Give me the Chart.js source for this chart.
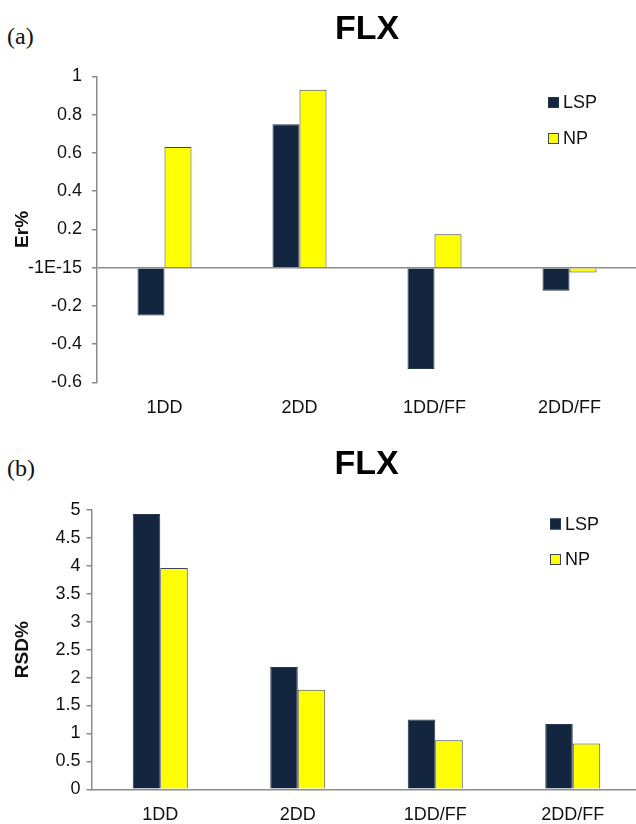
<!DOCTYPE html>
<html>
<head>
<meta charset="utf-8">
<script src="https://cdn.jsdelivr.net/npm/chart.js@4"></script>
<style>
  html, body { margin: 0; padding: 0; background: #fff; overflow: hidden; }
  #wrap { position: relative; width: 636px; height: 824px; overflow: hidden; }
  .panel { position: absolute; left: 0; }
  .tag { position: absolute; left: 7px; font: 24px "Liberation Serif", "Times New Roman", serif; color: #111; }
</style>
</head>
<body>
<div id="wrap">
  <div class="tag" style="top:23px">(a)</div>
  <div class="tag" style="top:455px">(b)</div>
  <canvas id="chartA" class="panel" style="top:0" width="645" height="420"></canvas>
  <canvas id="chartB" class="panel" style="top:420px" width="645" height="404"></canvas>
</div>
<script>
// categories shared by both panels
const categories = ['1DD', '2DD', '1DD/FF', '2DD/FF'];

// (a) Er%
const erLSP = [-0.25, 0.75, -0.53, -0.12];
const erNP = [0.63, 0.93, 0.175, -0.025];
const erTickLabels = ['-0.6', '-0.4', '-0.2', '-1E-15', '0.2', '0.4', '0.6', '0.8', '1'];

// (b) RSD%
const rsdLSP = [4.93, 2.19, 1.25, 1.17];
const rsdNP = [3.96, 1.78, 0.88, 0.82];
const rsdTickLabels = ['0', '0.5', '1', '1.5', '2', '2.5', '3', '3.5', '4', '4.5', '5'];

const NAVY = '#13253f';
const YELLOW = '#ffff00';
const AXIS = '#8c8c8c';
const FONT = '"Liberation Sans", Arial, Helvetica, sans-serif';

Chart.defaults.font.family = FONT;
Chart.defaults.color = '#111';

// legend drawn inside the plot, Excel style
const boxLegend = {
  id: 'boxLegend',
  afterDraw(chart, args, opts) {
    const ctx = chart.ctx;
    ctx.save();
    ctx.font = '18px ' + FONT;
    ctx.textBaseline = 'middle';
    chart.data.datasets.forEach(function(ds, i) {
      const y = opts.y + i * opts.gap;
      ctx.fillStyle = ds.backgroundColor;
      ctx.fillRect(opts.x, y - 5.5, 11, 11);
      ctx.strokeStyle = ds.borderColor;
      ctx.lineWidth = 1;
      ctx.strokeRect(opts.x + 0.5, y - 5, 10, 10);
      ctx.fillStyle = '#111';
      ctx.fillText(ds.label, opts.x + 15, y + 1);
    });
    ctx.restore();
  }
};

function datasets(lsp, np) {
  return [
    { label: 'LSP', data: lsp, backgroundColor: NAVY, borderColor: '#26364d', borderWidth: 1,
      categoryPercentage: 0.4, barPercentage: 1.0 },
    { label: 'NP', data: np, backgroundColor: YELLOW, borderColor: '#3b4657', borderWidth: 1,
      categoryPercentage: 0.4, barPercentage: 1.0 }
  ];
}

function makeChart(id, cfg) {
  return new Chart(document.getElementById(id).getContext('2d'), {
    type: 'bar',
    data: { labels: categories, datasets: datasets(cfg.lsp, cfg.np) },
    plugins: [boxLegend],
    options: {
      responsive: false,
      animation: false,
      devicePixelRatio: 1,
      layout: { padding: { left: 11, right: cfg.padRight, top: 0, bottom: 0 } },
      plugins: {
        legend: { display: false },
        tooltip: { enabled: false },
        title: {
          display: true,
          text: 'FLX',
          fullSize: false,
          color: '#000',
          font: { size: 34, weight: 'bold' },
          padding: cfg.titlePad
        },
        boxLegend: cfg.legend
      },
      scales: {
        x: {
          grid: { display: true, drawOnChartArea: false, drawTicks: false },
          border: { display: cfg.xBorder, color: AXIS, width: 1.5 },
          ticks: { font: { size: 18 }, padding: 15, color: '#111' },
          afterFit: function(s) { s.height = cfg.xHeight; }
        },
        y: {
          min: cfg.min,
          max: cfg.max,
          ticks: {
            stepSize: cfg.step,
            font: { size: 18 },
            padding: cfg.tickPad,
            color: '#111',
            callback: function(v, i) { return cfg.tickLabels[i]; }
          },
          grid: {
            drawOnChartArea: true,
            tickLength: 5,
            tickColor: AXIS,
            lineWidth: 1.5,
            color: function(c) {
              return (cfg.zeroLine && c.tick && Math.abs(c.tick.value) < 1e-9) ? AXIS : 'rgba(0,0,0,0)';
            }
          },
          border: { display: true, color: AXIS, width: 1.5 },
          title: { display: true, text: cfg.yTitle, font: { size: 19, weight: 'bold' }, color: '#111', padding: 0 },
          afterFit: function(s) { s.width = cfg.yWidth; }
        }
      }
    }
  });
}

makeChart('chartA', {
  lsp: erLSP, np: erNP, tickLabels: erTickLabels,
  min: -0.6, max: 1, step: 0.2, yTitle: 'Er%',
  zeroLine: true, xBorder: false,
  padRight: 8, yWidth: 86, tickPad: 10, xHeight: 37.5,
  titlePad: { top: 9, bottom: 26.5 },
  legend: { x: 548, y: 102.5, gap: 36 }
});

makeChart('chartB', {
  lsp: rsdLSP, np: rsdNP, tickLabels: rsdTickLabels,
  min: 0, max: 5, step: 0.5, yTitle: 'RSD%',
  zeroLine: false, xBorder: true,
  padRight: 3.5, yWidth: 80.5, tickPad: 6, xHeight: 34.7,
  titlePad: { top: 24, bottom: 25.2 },
  legend: { x: 550, y: 104, gap: 35.5 }
});
</script>
</body>
</html>
